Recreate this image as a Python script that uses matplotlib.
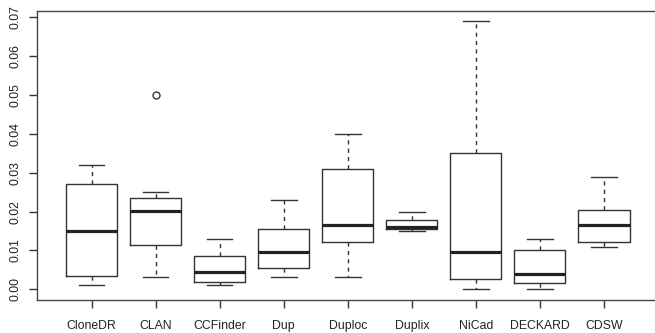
import matplotlib
matplotlib.use("Agg")
import matplotlib.pyplot as plt

plt.rcParams['font.family'] = ['Liberation Sans', 'DejaVu Sans']

tools = ["CloneDR", "CLAN", "CCFinder", "Dup", "Duploc", "Duplix", "NiCad", "DECKARD", "CDSW"]
whislo = [0.0010, 0.0031, 0.0010, 0.0031, 0.0031, 0.0151, 0.0001, 0.0000, 0.0110]
q1     = [0.0035, 0.0115, 0.0020, 0.0056, 0.0121, 0.0155, 0.0026, 0.0015, 0.0121]
med    = [0.0151, 0.0201, 0.0045, 0.0096, 0.0165, 0.0160, 0.0096, 0.0040, 0.0165]
q3     = [0.0271, 0.0236, 0.0085, 0.0155, 0.0310, 0.0179, 0.0350, 0.0100, 0.0205]
whishi = [0.0320, 0.0250, 0.0130, 0.0230, 0.0400, 0.0200, 0.0690, 0.0130, 0.0290]
fliers = [[], [0.0499], [], [], [], [], [], [], []]
yticks = [0.00, 0.01, 0.02, 0.03, 0.04, 0.05, 0.06, 0.07]
ytick_labels = ["0.00", "0.01", "0.02", "0.03", "0.04", "0.05", "0.06", "0.07"]

stats = []
for i, name in enumerate(tools):
    stats.append(dict(label=name, whislo=whislo[i], q1=q1[i], med=med[i],
                      q3=q3[i], whishi=whishi[i], fliers=fliers[i]))

fig = plt.figure(figsize=(6.55, 3.33), dpi=100)
ax = fig.add_axes([36.5/655, 33/333, (659-36.5)/655, (300-10.5)/333])

lc = '#333333'
ax.bxp(stats, positions=range(1, 10), widths=0.8,
       boxprops=dict(color=lc, linewidth=1.0),
       whiskerprops=dict(color=lc, linewidth=1.0, linestyle=(0, (3, 3))),
       capprops=dict(color=lc, linewidth=1.0),
       medianprops=dict(color='#222222', linewidth=2.3, solid_capstyle='butt'),
       flierprops=dict(marker='o', markerfacecolor='none', markeredgecolor=lc,
                       markersize=5, markeredgewidth=1.0),
       capwidths=0.4)

ax.set_xlim(0.14, 9.86)
ax.set_ylim(-0.00276, 0.07176)
ax.set_yticks(yticks)
ax.set_yticklabels(ytick_labels, rotation=90, va='center')
ax.set_xticks(range(1, 10))
ax.set_xticklabels(tools)
ax.tick_params(axis='both', labelsize=8.8, length=5.5, width=1.0, color=lc, labelcolor='#222222')
ax.tick_params(axis='y', pad=5)
ax.tick_params(axis='x', pad=9)
for s in ax.spines.values():
    s.set_color('#444444')
    s.set_linewidth(1.0)

fig.savefig("out.png", dpi=100)
